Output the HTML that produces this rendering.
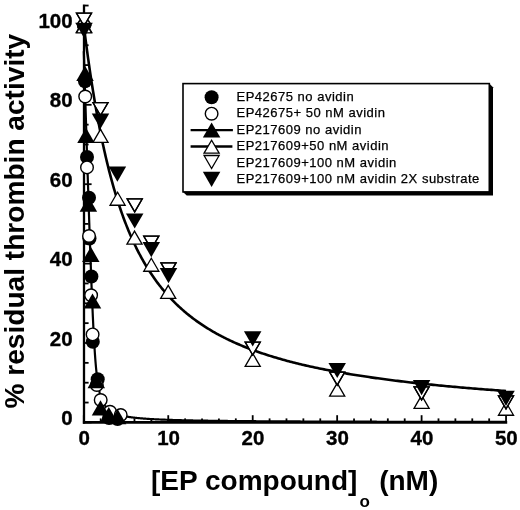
<!DOCTYPE html><html><head><meta charset="utf-8"><style>html,body{margin:0;padding:0;background:#fff;}svg{display:block;will-change:transform;}text{font-family:"Liberation Sans",sans-serif;}</style></head><body>
<svg width="520" height="510" viewBox="0 0 520 510">
<rect width="520" height="510" fill="#fff"/>
<g stroke="#000" fill="none">
<line x1="84" y1="4.5" x2="84" y2="423.7" stroke-width="2.3"/>
<line x1="82.85" y1="422.4" x2="507.2" y2="422.4" stroke-width="2.7"/>
<line x1="85" y1="422.40" x2="91.60" y2="422.40" stroke-width="1.8"/>
<line x1="85" y1="402.55" x2="88.60" y2="402.55" stroke-width="1.8"/>
<line x1="85" y1="382.70" x2="88.60" y2="382.70" stroke-width="1.8"/>
<line x1="85" y1="362.85" x2="88.60" y2="362.85" stroke-width="1.8"/>
<line x1="85" y1="343.00" x2="91.60" y2="343.00" stroke-width="1.8"/>
<line x1="85" y1="323.15" x2="88.60" y2="323.15" stroke-width="1.8"/>
<line x1="85" y1="303.30" x2="88.60" y2="303.30" stroke-width="1.8"/>
<line x1="85" y1="283.45" x2="88.60" y2="283.45" stroke-width="1.8"/>
<line x1="85" y1="263.60" x2="91.60" y2="263.60" stroke-width="1.8"/>
<line x1="85" y1="243.75" x2="88.60" y2="243.75" stroke-width="1.8"/>
<line x1="85" y1="223.90" x2="88.60" y2="223.90" stroke-width="1.8"/>
<line x1="85" y1="204.05" x2="88.60" y2="204.05" stroke-width="1.8"/>
<line x1="85" y1="184.20" x2="91.60" y2="184.20" stroke-width="1.8"/>
<line x1="85" y1="164.35" x2="88.60" y2="164.35" stroke-width="1.8"/>
<line x1="85" y1="144.50" x2="88.60" y2="144.50" stroke-width="1.8"/>
<line x1="85" y1="124.65" x2="88.60" y2="124.65" stroke-width="1.8"/>
<line x1="85" y1="104.80" x2="91.60" y2="104.80" stroke-width="1.8"/>
<line x1="85" y1="84.95" x2="88.60" y2="84.95" stroke-width="1.8"/>
<line x1="85" y1="65.10" x2="88.60" y2="65.10" stroke-width="1.8"/>
<line x1="85" y1="45.25" x2="88.60" y2="45.25" stroke-width="1.8"/>
<line x1="85" y1="25.40" x2="91.60" y2="25.40" stroke-width="1.8"/>
<line x1="85" y1="5.55" x2="88.60" y2="5.55" stroke-width="1.8"/>
<line x1="83.80" y1="421" x2="83.80" y2="415.20" stroke-width="1.8"/>
<line x1="100.69" y1="421" x2="100.69" y2="418.40" stroke-width="1.8"/>
<line x1="117.58" y1="421" x2="117.58" y2="418.40" stroke-width="1.8"/>
<line x1="134.47" y1="421" x2="134.47" y2="418.40" stroke-width="1.8"/>
<line x1="151.36" y1="421" x2="151.36" y2="418.40" stroke-width="1.8"/>
<line x1="168.25" y1="421" x2="168.25" y2="415.20" stroke-width="1.8"/>
<line x1="185.14" y1="421" x2="185.14" y2="418.40" stroke-width="1.8"/>
<line x1="202.03" y1="421" x2="202.03" y2="418.40" stroke-width="1.8"/>
<line x1="218.92" y1="421" x2="218.92" y2="418.40" stroke-width="1.8"/>
<line x1="235.81" y1="421" x2="235.81" y2="418.40" stroke-width="1.8"/>
<line x1="252.70" y1="421" x2="252.70" y2="415.20" stroke-width="1.8"/>
<line x1="269.59" y1="421" x2="269.59" y2="418.40" stroke-width="1.8"/>
<line x1="286.48" y1="421" x2="286.48" y2="418.40" stroke-width="1.8"/>
<line x1="303.37" y1="421" x2="303.37" y2="418.40" stroke-width="1.8"/>
<line x1="320.26" y1="421" x2="320.26" y2="418.40" stroke-width="1.8"/>
<line x1="337.15" y1="421" x2="337.15" y2="415.20" stroke-width="1.8"/>
<line x1="354.04" y1="421" x2="354.04" y2="418.40" stroke-width="1.8"/>
<line x1="370.93" y1="421" x2="370.93" y2="418.40" stroke-width="1.8"/>
<line x1="387.82" y1="421" x2="387.82" y2="418.40" stroke-width="1.8"/>
<line x1="404.71" y1="421" x2="404.71" y2="418.40" stroke-width="1.8"/>
<line x1="421.60" y1="421" x2="421.60" y2="415.20" stroke-width="1.8"/>
<line x1="438.49" y1="421" x2="438.49" y2="418.40" stroke-width="1.8"/>
<line x1="455.38" y1="421" x2="455.38" y2="418.40" stroke-width="1.8"/>
<line x1="472.27" y1="421" x2="472.27" y2="418.40" stroke-width="1.8"/>
<line x1="489.16" y1="421" x2="489.16" y2="418.40" stroke-width="1.8"/>
<line x1="506.05" y1="421" x2="506.05" y2="415.20" stroke-width="1.8"/>
</g>
<path d="M83.80,25.40 L83.80,25.42 L83.81,25.49 L83.82,25.59 L83.84,25.74 L83.87,25.94 L83.90,26.18 L83.93,26.45 L83.97,26.78 L84.01,27.14 L84.07,27.55 L84.12,28.00 L84.18,28.49 L84.25,29.02 L84.32,29.60 L84.40,30.21 L84.48,30.87 L84.57,31.56 L84.66,32.30 L84.76,33.08 L84.86,33.89 L84.97,34.75 L85.08,35.64 L85.20,36.58 L85.33,37.55 L85.46,38.56 L85.59,39.60 L85.73,40.68 L85.88,41.80 L86.03,42.96 L86.19,44.14 L86.35,45.37 L86.52,46.62 L86.69,47.92 L86.87,49.24 L87.05,50.59 L87.24,51.98 L87.43,53.40 L87.63,54.85 L87.83,56.33 L88.04,57.83 L88.26,59.37 L88.48,60.93 L88.70,62.52 L88.93,64.14 L89.17,65.78 L89.41,67.45 L89.66,69.14 L89.91,70.86 L90.17,72.60 L90.43,74.36 L90.70,76.14 L90.97,77.95 L91.25,79.77 L91.53,81.61 L91.82,83.48 L92.12,85.35 L92.42,87.25 L92.72,89.16 L93.03,91.09 L93.35,93.04 L93.67,95.00 L94.00,96.97 L94.33,98.95 L94.66,100.95 L95.01,102.96 L95.35,104.97 L95.71,107.00 L96.06,109.04 L96.43,111.09 L96.80,113.14 L97.17,115.20 L97.55,117.27 L97.93,119.35 L98.32,121.42 L98.72,123.51 L99.12,125.60 L99.53,127.69 L99.94,129.78 L100.35,131.88 L100.77,133.97 L101.20,136.07 L101.63,138.17 L102.07,140.27 L102.51,142.36 L102.96,144.46 L103.42,146.55 L103.88,148.65 L104.34,150.73 L104.81,152.82 L105.28,154.90 L105.76,156.98 L106.25,159.05 L106.74,161.12 L107.24,163.18 L107.74,165.23 L108.24,167.28 L108.76,169.32 L109.27,171.36 L109.80,173.38 L110.32,175.40 L110.86,177.41 L111.39,179.41 L111.94,181.40 L112.49,183.38 L113.04,185.36 L113.60,187.32 L114.17,189.27 L114.74,191.21 L115.31,193.14 L115.89,195.07 L116.48,196.97 L117.07,198.87 L117.67,200.76 L118.27,202.63 L118.88,204.49 L119.49,206.34 L120.11,208.18 L120.73,210.01 L121.36,211.82 L121.99,213.62 L122.63,215.40 L123.28,217.18 L123.93,218.94 L124.58,220.69 L125.24,222.42 L125.91,224.14 L126.58,225.85 L127.26,227.54 L127.94,229.22 L128.62,230.89 L129.32,232.54 L130.01,234.18 L130.72,235.81 L131.42,237.42 L132.14,239.02 L132.86,240.60 L133.58,242.17 L134.31,243.73 L135.05,245.27 L135.79,246.80 L136.53,248.32 L137.28,249.82 L138.04,251.31 L138.80,252.79 L139.56,254.25 L140.34,255.70 L141.11,257.13 L141.90,258.55 L142.68,259.96 L143.48,261.35 L144.28,262.74 L145.08,264.10 L145.89,265.46 L146.70,266.80 L147.52,268.13 L148.35,269.45 L149.18,270.75 L150.01,272.04 L150.85,273.32 L151.70,274.58 L152.55,275.84 L153.41,277.08 L154.27,278.30 L155.14,279.52 L156.01,280.72 L156.89,281.92 L157.77,283.10 L158.66,284.26 L159.55,285.42 L160.45,286.56 L161.36,287.70 L162.27,288.82 L163.18,289.93 L164.10,291.03 L165.03,292.12 L165.96,293.19 L166.89,294.26 L167.84,295.31 L168.78,296.36 L169.73,297.39 L170.69,298.41 L171.66,299.42 L172.62,300.43 L173.60,301.42 L174.58,302.40 L175.56,303.37 L176.55,304.33 L177.54,305.28 L178.54,306.23 L179.55,307.16 L180.56,308.08 L181.57,308.99 L182.60,309.90 L183.62,310.79 L184.65,311.68 L185.69,312.55 L186.73,313.42 L187.78,314.28 L188.83,315.13 L189.89,315.97 L190.96,316.80 L192.02,317.62 L193.10,318.44 L194.18,319.25 L195.26,320.04 L196.35,320.83 L197.45,321.62 L198.55,322.39 L199.66,323.16 L200.77,323.92 L201.88,324.67 L203.01,325.41 L204.13,326.15 L205.27,326.88 L206.40,327.60 L207.55,328.31 L208.69,329.02 L209.85,329.72 L211.01,330.41 L212.17,331.09 L213.34,331.77 L214.52,332.44 L215.70,333.11 L216.88,333.77 L218.07,334.42 L219.27,335.06 L220.47,335.70 L221.68,336.34 L222.89,336.96 L224.11,337.58 L225.33,338.20 L226.56,338.80 L227.79,339.41 L229.03,340.00 L230.27,340.59 L231.52,341.18 L232.78,341.75 L234.04,342.33 L235.30,342.89 L236.57,343.46 L237.85,344.01 L239.13,344.56 L240.42,345.11 L241.71,345.65 L243.00,346.18 L244.31,346.71 L245.61,347.24 L246.93,347.76 L248.25,348.27 L249.57,348.78 L250.90,349.29 L252.23,349.79 L253.57,350.28 L254.92,350.77 L256.27,351.26 L257.62,351.74 L258.98,352.22 L260.35,352.69 L261.72,353.16 L263.10,353.62 L264.48,354.08 L265.86,354.54 L267.26,354.99 L268.66,355.43 L270.06,355.88 L271.47,356.31 L272.88,356.75 L274.30,357.18 L275.72,357.60 L277.15,358.03 L278.59,358.44 L280.03,358.86 L281.47,359.27 L282.92,359.68 L284.38,360.08 L285.84,360.48 L287.31,360.88 L288.78,361.27 L290.26,361.66 L291.74,362.04 L293.23,362.42 L294.72,362.80 L296.22,363.18 L297.72,363.55 L299.23,363.92 L300.75,364.28 L302.27,364.64 L303.79,365.00 L305.32,365.36 L306.86,365.71 L308.40,366.06 L309.95,366.41 L311.50,366.75 L313.05,367.09 L314.62,367.43 L316.18,367.76 L317.76,368.09 L319.34,368.42 L320.92,368.75 L322.51,369.07 L324.10,369.39 L325.70,369.71 L327.31,370.02 L328.92,370.33 L330.53,370.64 L332.15,370.95 L333.78,371.25 L335.41,371.56 L337.04,371.85 L338.69,372.15 L340.33,372.44 L341.99,372.74 L343.64,373.03 L345.31,373.31 L346.98,373.60 L348.65,373.88 L350.33,374.16 L352.01,374.43 L353.70,374.71 L355.40,374.98 L357.10,375.25 L358.80,375.52 L360.51,375.79 L362.23,376.05 L363.95,376.31 L365.68,376.57 L367.41,376.83 L369.15,377.08 L370.89,377.34 L372.64,377.59 L374.39,377.84 L376.15,378.09 L377.91,378.33 L379.68,378.57 L381.46,378.82 L383.23,379.05 L385.02,379.29 L386.81,379.53 L388.61,379.76 L390.41,379.99 L392.21,380.22 L394.02,380.45 L395.84,380.68 L397.66,380.90 L399.49,381.13 L401.32,381.35 L403.16,381.57 L405.01,381.78 L406.85,382.00 L408.71,382.21 L410.57,382.43 L412.43,382.64 L414.30,382.85 L416.18,383.06 L418.06,383.26 L419.94,383.47 L421.83,383.67 L423.73,383.87 L425.63,384.07 L427.54,384.27 L429.45,384.47 L431.37,384.66 L433.29,384.86 L435.22,385.05 L437.15,385.24 L439.09,385.43 L441.04,385.62 L442.99,385.81 L444.94,385.99 L446.90,386.18 L448.87,386.36 L450.84,386.54 L452.81,386.72 L454.79,386.90 L456.78,387.08 L458.77,387.25 L460.77,387.43 L462.77,387.60 L464.78,387.78 L466.79,387.95 L468.81,388.12 L470.84,388.29 L472.86,388.45 L474.90,388.62 L476.94,388.79 L478.98,388.95 L481.03,389.11 L483.09,389.27 L485.15,389.43 L487.22,389.59 L489.29,389.75 L491.36,389.91 L493.45,390.07 L495.53,390.22 L497.63,390.37 L499.72,390.53 L501.83,390.68 L503.94,390.83 L506.05,390.98" fill="none" stroke="#000" stroke-width="2.6"/>
<path d="M83.80,51.13 L83.80,51.15 L83.80,51.21 L83.81,51.32 L83.81,51.47 L83.82,51.67 L83.82,51.90 L83.83,52.18 L83.84,52.51 L83.85,52.87 L83.87,53.28 L83.88,53.74 L83.90,54.23 L83.91,54.77 L83.93,55.36 L83.95,55.98 L83.97,56.65 L83.99,57.36 L84.01,58.12 L84.04,58.91 L84.06,59.76 L84.09,60.64 L84.12,61.57 L84.15,62.53 L84.18,63.55 L84.21,64.60 L84.25,65.70 L84.28,66.84 L84.32,68.02 L84.36,69.25 L84.40,70.51 L84.44,71.83 L84.48,73.18 L84.52,74.57 L84.56,76.01 L84.61,77.49 L84.66,79.01 L84.71,80.58 L84.76,82.18 L84.81,83.83 L84.86,85.52 L84.91,87.25 L84.97,89.03 L85.02,90.84 L85.08,92.70 L85.14,94.60 L85.20,96.54 L85.26,98.52 L85.32,100.54 L85.39,102.61 L85.45,104.71 L85.52,106.86 L85.59,109.04 L85.66,111.27 L85.73,113.53 L85.80,115.84 L85.87,118.19 L85.95,120.57 L86.03,123.00 L86.10,125.46 L86.18,127.97 L86.26,130.51 L86.34,133.10 L86.43,135.72 L86.51,138.38 L86.59,141.08 L86.68,143.81 L86.77,146.58 L86.86,149.39 L86.95,152.24 L87.04,155.12 L87.13,158.04 L87.23,161.00 L87.32,163.99 L87.42,167.02 L87.52,170.08 L87.62,173.17 L87.72,176.30 L87.82,179.46 L87.93,182.66 L88.03,185.88 L88.14,189.14 L88.25,192.42 L88.36,195.74 L88.47,199.09 L88.58,202.46 L88.69,205.86 L88.81,209.29 L88.92,212.75 L89.04,216.23 L89.16,219.73 L89.28,223.25 L89.40,226.80 L89.52,230.37 L89.64,233.95 L89.77,237.55 L89.90,241.17 L90.02,244.80 L90.15,248.44 L90.28,252.09 L90.41,255.75 L90.55,259.42 L90.68,263.09 L90.82,266.76 L90.95,270.43 L91.09,274.10 L91.23,277.76 L91.37,281.41 L91.51,285.05 L91.66,288.67 L91.80,292.27 L91.95,295.85 L92.10,299.41 L92.25,302.93 L92.40,306.42 L92.55,309.88 L92.70,313.29 L92.85,316.66 L93.01,319.98 L93.17,323.24 L93.32,326.45 L93.48,329.60 L93.64,332.68 L93.81,335.69 L93.97,338.64 L94.13,341.51 L94.30,344.30 L94.47,347.02 L94.64,349.65 L94.81,352.21 L94.98,354.68 L95.15,357.06 L95.32,359.37 L95.50,361.59 L95.68,363.72 L95.85,365.78 L96.03,367.75 L96.21,369.64 L96.40,371.46 L96.58,373.20 L96.76,374.87 L96.95,376.46 L97.14,377.99 L97.33,379.45 L97.52,380.84 L97.71,382.17 L97.90,383.45 L98.09,384.67 L98.29,385.83 L98.48,386.95 L98.68,388.01 L98.88,389.03 L99.08,390.01 L99.28,390.94 L99.49,391.83 L99.69,392.69 L99.90,393.51 L100.10,394.29 L100.31,395.04 L100.52,395.76 L100.73,396.45 L100.94,397.12 L101.16,397.76 L101.37,398.37 L101.59,398.96 L101.81,399.52 L102.03,400.07 L102.25,400.59 L102.47,401.09 L102.69,401.58 L102.91,402.05 L103.14,402.50 L103.37,402.93 L103.60,403.35 L103.83,403.76 L104.06,404.15 L104.29,404.53 L104.52,404.89 L104.76,405.25 L104.99,405.59 L105.23,405.92 L105.47,406.24 L105.71,406.55 L105.95,406.85 L106.19,407.14 L106.44,407.43 L106.68,407.70 L106.93,407.97 L107.18,408.22 L107.43,408.48 L107.68,408.72 L107.93,408.96 L108.18,409.19 L108.44,409.41 L108.69,409.63 L108.95,409.84 L109.21,410.04 L109.47,410.24 L109.73,410.44 L109.99,410.63 L110.26,410.81 L110.52,410.99 L110.79,411.17 L111.06,411.34 L111.33,411.51 L111.60,411.67 L111.87,411.83 L112.14,411.98 L112.42,412.14 L112.69,412.28 L112.97,412.43 L113.25,412.57 L113.53,412.71 L113.81,412.84 L114.09,412.97 L114.37,413.10 L114.66,413.23 L114.95,413.35 L115.23,413.47 L115.52,413.59 L115.81,413.70 L116.10,413.82 L116.40,413.93 L116.69,414.04 L116.99,414.14 L117.28,414.25 L117.58,414.35 L117.88,414.45 L118.18,414.55 L118.49,414.64 L118.79,414.73 L119.09,414.83 L119.40,414.92 L119.71,415.01 L120.02,415.09 L120.33,415.18 L120.64,415.26 L120.95,415.34 L121.27,415.42 L121.58,415.50 L121.90,415.58 L122.22,415.66 L122.54,415.73 L122.86,415.80 L123.18,415.88 L123.50,415.95 L123.83,416.02 L124.15,416.09 L124.48,416.15 L124.81,416.22 L125.14,416.28 L125.47,416.35 L125.80,416.41 L126.14,416.47 L126.47,416.53 L126.81,416.59 L127.15,416.65 L127.49,416.71 L127.83,416.77 L128.17,416.82 L128.51,416.88 L128.86,416.93 L129.20,416.99 L129.55,417.04 L129.90,417.09 L130.25,417.14 L130.60,417.19 L130.95,417.24 L131.31,417.29 L131.66,417.34 L132.02,417.39 L132.38,417.43 L132.73,417.48 L133.09,417.52 L133.46,417.57 L133.82,417.61 L134.18,417.66 L134.55,417.70 L134.92,417.74 L135.29,417.78 L135.66,417.82 L136.03,417.86 L136.40,417.90 L136.77,417.94 L137.15,417.98 L137.52,418.02 L137.90,418.06 L138.28,418.09 L138.66,418.13 L139.04,418.17 L139.43,418.20 L139.81,418.24 L140.20,418.27 L140.58,418.31 L140.97,418.34 L141.36,418.37 L141.75,418.41 L142.14,418.44 L142.54,418.47 L142.93,418.50 L143.33,418.53 L143.73,418.56 L144.12,418.59 L144.52,418.62 L144.93,418.65 L145.33,418.68 L145.73,418.71 L146.14,418.74 L146.54,418.77 L146.95,418.80 L147.36,418.82 L147.77,418.85 L148.19,418.88 L148.60,418.91 L149.01,418.93 L149.43,418.96 L149.85,418.98 L150.27,419.01 L150.69,419.03 L151.11,419.06 L151.53,419.08 L151.95,419.11 L152.38,419.13 L152.81,419.16 L153.23,419.18 L153.66,419.20 L154.09,419.23 L154.52,419.25 L154.96,419.27 L155.39,419.29 L155.83,419.31 L156.27,419.34 L156.70,419.36 L157.14,419.38 L157.59,419.40 L158.03,419.42 L158.47,419.44 L158.92,419.46 L159.36,419.48 L159.81,419.50 L160.26,419.52 L160.71,419.54 L161.16,419.56 L161.62,419.58 L162.07,419.60 L162.53,419.62 L162.98,419.63 L163.44,419.65 L163.90,419.67 L164.36,419.69 L164.82,419.71 L165.29,419.72 L165.75,419.74 L166.22,419.76 L166.69,419.77 L167.16,419.79 L167.63,419.81 L168.10,419.82 L168.57,419.84 L169.04,419.86 L169.52,419.87 L170.00,419.89 L170.47,419.90 L170.95,419.92 L171.44,419.94 L171.92,419.95 L172.40,419.97 L172.89,419.98 L173.37,420.00 L173.86,420.01 L174.35,420.03 L174.84,420.04 L175.33,420.05 L175.82,420.07 L176.32,420.08 L176.81,420.10 L177.31,420.11 L177.81,420.12 L178.31,420.14 L178.81,420.15 L179.31,420.16 L179.81,420.18 L180.32,420.19 L180.82,420.20 L181.33,420.22 L181.84,420.23 L182.35,420.24 L182.86,420.25 L183.37,420.27 L183.89,420.28 L184.40,420.29 L184.92,420.30 L185.44,420.31 L185.96,420.33 L186.48,420.34 L187.00,420.35 L187.52,420.36 L188.05,420.37 L188.57,420.38 L189.10,420.39 L189.63,420.40 L190.16,420.42 L190.69,420.43 L191.22,420.44 L191.75,420.45 L192.29,420.46 L192.83,420.47 L193.36,420.48 L193.90,420.49 L194.44,420.50 L194.98,420.51 L195.53,420.52 L196.07,420.53 L196.62,420.54 L197.16,420.55 L197.71,420.56 L198.26,420.57 L198.81,420.58 L199.37,420.59 L199.92,420.60 L200.47,420.61 L201.03,420.62 L201.59,420.63 L202.15,420.64 L202.71,420.64 L203.27,420.65 L203.83,420.66 L204.40,420.67 L204.96,420.68 L205.53,420.69 L206.10,420.70 L206.67,420.71 L207.24,420.72 L207.81,420.72 L208.38,420.73 L208.96,420.74 L209.53,420.75 L210.11,420.76 L210.69,420.76 L211.27,420.77 L211.85,420.78 L212.43,420.79 L213.02,420.80 L213.60,420.80 L214.19,420.81 L214.78,420.82 L215.37,420.83 L215.96,420.84 L216.55,420.84 L217.14,420.85 L217.74,420.86 L218.33,420.87 L218.93,420.87 L219.53,420.88 L220.13,420.89 L220.73,420.89 L221.33,420.90 L221.94,420.91 L222.54,420.92 L223.15,420.92 L223.76,420.93 L224.37,420.94 L224.98,420.94 L225.59,420.95 L226.20,420.96 L226.82,420.96 L227.43,420.97 L228.05,420.98 L228.67,420.98 L229.29,420.99 L229.91,421.00 L230.53,421.00 L231.15,421.01 L231.78,421.02 L232.40,421.02 L233.03,421.03 L233.66,421.03 L234.29,421.04 L234.92,421.05 L235.56,421.05 L236.19,421.06 L236.83,421.06 L237.46,421.07 L238.10,421.08 L238.74,421.08 L239.38,421.09 L240.02,421.09 L240.67,421.10 L241.31,421.11 L241.96,421.11 L242.61,421.12 L243.26,421.12 L243.91,421.13 L244.56,421.13 L245.21,421.14 L245.86,421.14 L246.52,421.15 L247.18,421.15 L247.83,421.16 L248.49,421.17 L249.15,421.17 L249.82,421.18 L250.48,421.18 L251.14,421.19 L251.81,421.19 L252.48,421.20 L253.15,421.20 L253.82,421.21 L254.49,421.21 L255.16,421.22 L255.83,421.22 L256.51,421.23 L257.19,421.23 L257.86,421.24 L258.54,421.24 L259.22,421.25 L259.91,421.25 L260.59,421.25 L261.27,421.26 L261.96,421.26 L262.65,421.27 L263.34,421.27 L264.03,421.28 L264.72,421.28 L265.41,421.29 L266.10,421.29 L266.80,421.30 L267.49,421.30 L268.19,421.30 L268.89,421.31 L269.59,421.31 L270.29,421.32 L271.00,421.32 L271.70,421.33 L272.41,421.33 L273.11,421.34 L273.82,421.34 L274.53,421.34 L275.24,421.35 L275.96,421.35 L276.67,421.36 L277.38,421.36 L278.10,421.36 L278.82,421.37 L279.54,421.37 L280.26,421.38 L280.98,421.38 L281.70,421.38 L282.43,421.39 L283.15,421.39 L283.88,421.40 L284.61,421.40 L285.34,421.40 L286.07,421.41 L286.80,421.41 L287.53,421.41 L288.27,421.42 L289.00,421.42 L289.74,421.43 L290.48,421.43 L291.22,421.43 L291.96,421.44 L292.70,421.44 L293.45,421.44 L294.19,421.45 L294.94,421.45 L295.69,421.45 L296.44,421.46 L297.19,421.46 L297.94,421.46 L298.69,421.47 L299.45,421.47 L300.21,421.47 L300.96,421.48 L301.72,421.48 L302.48,421.49 L303.24,421.49 L304.01,421.49 L304.77,421.50 L305.53,421.50 L306.30,421.50 L307.07,421.50 L307.84,421.51 L308.61,421.51 L309.38,421.51 L310.15,421.52 L310.93,421.52 L311.70,421.52 L312.48,421.53 L313.26,421.53 L314.04,421.53 L314.82,421.54 L315.60,421.54 L316.39,421.54 L317.17,421.55 L317.96,421.55 L318.75,421.55 L319.54,421.55 L320.33,421.56 L321.12,421.56 L321.91,421.56 L322.70,421.57 L323.50,421.57 L324.30,421.57 L325.10,421.57 L325.90,421.58 L326.70,421.58 L327.50,421.58 L328.30,421.59 L329.11,421.59 L329.91,421.59 L330.72,421.59 L331.53,421.60 L332.34,421.60 L333.15,421.60 L333.96,421.61 L334.78,421.61 L335.59,421.61 L336.41,421.61 L337.23,421.62 L338.05,421.62 L338.87,421.62 L339.69,421.62 L340.52,421.63 L341.34,421.63 L342.17,421.63 L342.99,421.63 L343.82,421.64 L344.65,421.64 L345.48,421.64 L346.32,421.64 L347.15,421.65 L347.99,421.65 L348.82,421.65 L349.66,421.65 L350.50,421.66 L351.34,421.66 L352.18,421.66 L353.03,421.66 L353.87,421.67 L354.72,421.67 L355.56,421.67 L356.41,421.67 L357.26,421.68 L358.11,421.68 L358.97,421.68 L359.82,421.68 L360.68,421.68 L361.53,421.69 L362.39,421.69 L363.25,421.69 L364.11,421.69 L364.97,421.70 L365.83,421.70 L366.70,421.70 L367.56,421.70 L368.43,421.71 L369.30,421.71 L370.17,421.71 L371.04,421.71 L371.91,421.71 L372.79,421.72 L373.66,421.72 L374.54,421.72 L375.42,421.72 L376.30,421.72 L377.18,421.73 L378.06,421.73 L378.94,421.73 L379.82,421.73 L380.71,421.73 L381.60,421.74 L382.49,421.74 L383.38,421.74 L384.27,421.74 L385.16,421.74 L386.05,421.75 L386.95,421.75 L387.84,421.75 L388.74,421.75 L389.64,421.75 L390.54,421.76 L391.44,421.76 L392.34,421.76 L393.25,421.76 L394.15,421.76 L395.06,421.77 L395.97,421.77 L396.88,421.77 L397.79,421.77 L398.70,421.77 L399.61,421.78 L400.53,421.78 L401.45,421.78 L402.36,421.78 L403.28,421.78 L404.20,421.79 L405.12,421.79 L406.05,421.79 L406.97,421.79 L407.89,421.79 L408.82,421.79 L409.75,421.80 L410.68,421.80 L411.61,421.80 L412.54,421.80 L413.47,421.80 L414.41,421.80 L415.35,421.81 L416.28,421.81 L417.22,421.81 L418.16,421.81 L419.10,421.81 L420.04,421.82 L420.99,421.82 L421.93,421.82 L422.88,421.82 L423.83,421.82 L424.78,421.82 L425.73,421.83 L426.68,421.83 L427.63,421.83 L428.59,421.83 L429.54,421.83 L430.50,421.83 L431.46,421.83 L432.42,421.84 L433.38,421.84 L434.34,421.84 L435.30,421.84 L436.27,421.84 L437.24,421.84 L438.20,421.85 L439.17,421.85 L440.14,421.85 L441.11,421.85 L442.09,421.85 L443.06,421.85 L444.04,421.86 L445.01,421.86 L445.99,421.86 L446.97,421.86 L447.95,421.86 L448.94,421.86 L449.92,421.86 L450.90,421.87 L451.89,421.87 L452.88,421.87 L453.87,421.87 L454.86,421.87 L455.85,421.87 L456.84,421.87 L457.83,421.88 L458.83,421.88 L459.83,421.88 L460.82,421.88 L461.82,421.88 L462.83,421.88 L463.83,421.88 L464.83,421.89 L465.84,421.89 L466.84,421.89 L467.85,421.89 L468.86,421.89 L469.87,421.89 L470.88,421.89 L471.89,421.90 L472.91,421.90 L473.92,421.90 L474.94,421.90 L475.95,421.90 L476.97,421.90 L477.99,421.90 L479.02,421.90 L480.04,421.91 L481.06,421.91 L482.09,421.91 L483.12,421.91 L484.15,421.91 L485.18,421.91 L486.21,421.91 L487.24,421.92 L488.27,421.92 L489.31,421.92 L490.34,421.92 L491.38,421.92 L492.42,421.92 L493.46,421.92 L494.50,421.92 L495.55,421.93 L496.59,421.93 L497.64,421.93 L498.68,421.93 L499.73,421.93 L500.78,421.93 L501.83,421.93 L502.89,421.93 L503.94,421.93 L504.99,421.94 L506.05,421.94" fill="none" stroke="#000" stroke-width="2.2"/>
<circle cx="84.00" cy="25.40" r="7" fill="#000"/>
<circle cx="85.00" cy="81.20" r="7" fill="#000"/>
<circle cx="87.00" cy="157.00" r="7" fill="#000"/>
<circle cx="89.00" cy="197.80" r="7" fill="#000"/>
<circle cx="89.50" cy="238.50" r="7" fill="#000"/>
<circle cx="91.40" cy="276.50" r="7" fill="#000"/>
<circle cx="92.80" cy="341.80" r="7" fill="#000"/>
<circle cx="97.70" cy="379.20" r="7" fill="#000"/>
<circle cx="109.00" cy="418.00" r="7" fill="#000"/>
<circle cx="117.60" cy="419.00" r="7" fill="#000"/>
<circle cx="84.00" cy="25.40" r="6.3" fill="#fff" stroke="#000" stroke-width="1.4"/>
<circle cx="85.20" cy="96.50" r="6.3" fill="#fff" stroke="#000" stroke-width="1.4"/>
<circle cx="87.00" cy="167.40" r="6.3" fill="#fff" stroke="#000" stroke-width="1.4"/>
<circle cx="89.00" cy="236.00" r="6.3" fill="#fff" stroke="#000" stroke-width="1.4"/>
<circle cx="91.10" cy="295.30" r="6.3" fill="#fff" stroke="#000" stroke-width="1.4"/>
<circle cx="92.60" cy="334.40" r="6.3" fill="#fff" stroke="#000" stroke-width="1.4"/>
<circle cx="96.80" cy="385.00" r="6.3" fill="#fff" stroke="#000" stroke-width="1.4"/>
<circle cx="100.70" cy="400.00" r="6.3" fill="#fff" stroke="#000" stroke-width="1.4"/>
<circle cx="110.00" cy="411.80" r="6.3" fill="#fff" stroke="#000" stroke-width="1.4"/>
<circle cx="120.70" cy="415.00" r="6.3" fill="#fff" stroke="#000" stroke-width="1.4"/>
<polygon points="75.25,33.00 92.75,33.00 84.00,17.80" fill="#000"/>
<polygon points="76.25,81.00 93.75,81.00 85.00,65.80" fill="#000"/>
<polygon points="77.25,143.00 94.75,143.00 86.00,127.80" fill="#000"/>
<polygon points="79.65,211.80 97.15,211.80 88.40,196.60" fill="#000"/>
<polygon points="82.05,262.00 99.55,262.00 90.80,246.80" fill="#000"/>
<polygon points="83.75,308.60 101.25,308.60 92.50,293.40" fill="#000"/>
<polygon points="87.55,388.30 105.05,388.30 96.30,373.10" fill="#000"/>
<polygon points="91.75,415.40 109.25,415.40 100.50,400.20" fill="#000"/>
<polygon points="100.05,422.10 117.55,422.10 108.80,406.90" fill="#000"/>
<polygon points="108.85,424.20 126.35,424.20 117.60,409.00" fill="#000"/>
<polygon points="76.45,32.85 91.55,32.85 84.00,19.85" fill="#fff" stroke="#000" stroke-width="1.3"/>
<polygon points="92.95,142.35 108.05,142.35 100.50,129.35" fill="#fff" stroke="#000" stroke-width="1.3"/>
<polygon points="110.05,205.25 125.15,205.25 117.60,192.25" fill="#fff" stroke="#000" stroke-width="1.3"/>
<polygon points="126.95,244.15 142.05,244.15 134.50,231.15" fill="#fff" stroke="#000" stroke-width="1.3"/>
<polygon points="143.75,271.25 158.85,271.25 151.30,258.25" fill="#fff" stroke="#000" stroke-width="1.3"/>
<polygon points="160.65,298.35 175.75,298.35 168.20,285.35" fill="#fff" stroke="#000" stroke-width="1.3"/>
<polygon points="245.15,366.35 260.25,366.35 252.70,353.35" fill="#fff" stroke="#000" stroke-width="1.3"/>
<polygon points="329.65,396.05 344.75,396.05 337.20,383.05" fill="#fff" stroke="#000" stroke-width="1.3"/>
<polygon points="414.05,408.35 429.15,408.35 421.60,395.35" fill="#fff" stroke="#000" stroke-width="1.3"/>
<polygon points="498.45,415.25 513.55,415.25 506.00,402.25" fill="#fff" stroke="#000" stroke-width="1.3"/>
<polygon points="76.45,13.05 91.55,13.05 84.00,26.05" fill="#fff" stroke="#000" stroke-width="1.3"/>
<polygon points="92.95,102.55 108.05,102.55 100.50,115.55" fill="#fff" stroke="#000" stroke-width="1.3"/>
<polygon points="127.15,198.85 142.25,198.85 134.70,211.85" fill="#fff" stroke="#000" stroke-width="1.3"/>
<polygon points="143.75,236.05 158.85,236.05 151.30,249.05" fill="#fff" stroke="#000" stroke-width="1.3"/>
<polygon points="160.95,262.95 176.05,262.95 168.50,275.95" fill="#fff" stroke="#000" stroke-width="1.3"/>
<polygon points="245.15,342.05 260.25,342.05 252.70,355.05" fill="#fff" stroke="#000" stroke-width="1.3"/>
<polygon points="329.65,372.15 344.75,372.15 337.20,385.15" fill="#fff" stroke="#000" stroke-width="1.3"/>
<polygon points="414.05,386.95 429.15,386.95 421.60,399.95" fill="#fff" stroke="#000" stroke-width="1.3"/>
<polygon points="498.45,395.95 513.55,395.95 506.00,408.95" fill="#fff" stroke="#000" stroke-width="1.3"/>
<polygon points="75.25,22.80 92.75,22.80 84.00,38.00" fill="#000"/>
<polygon points="91.75,113.50 109.25,113.50 100.50,128.70" fill="#000"/>
<polygon points="108.65,166.60 126.15,166.60 117.40,181.80" fill="#000"/>
<polygon points="125.95,213.40 143.45,213.40 134.70,228.60" fill="#000"/>
<polygon points="142.55,242.00 160.05,242.00 151.30,257.20" fill="#000"/>
<polygon points="159.75,268.00 177.25,268.00 168.50,283.20" fill="#000"/>
<polygon points="243.95,331.30 261.45,331.30 252.70,346.50" fill="#000"/>
<polygon points="328.45,362.90 345.95,362.90 337.20,378.10" fill="#000"/>
<polygon points="412.85,380.00 430.35,380.00 421.60,395.20" fill="#000"/>
<polygon points="497.25,390.80 514.75,390.80 506.00,406.00" fill="#000"/>
<polygon points="76.45,13.05 91.55,13.05 84.00,26.05" fill="none" stroke="#000" stroke-width="1.3"/>
<polygon points="92.95,102.55 108.05,102.55 100.50,115.55" fill="none" stroke="#000" stroke-width="1.3"/>
<polygon points="127.15,198.85 142.25,198.85 134.70,211.85" fill="none" stroke="#000" stroke-width="1.3"/>
<polygon points="143.75,236.05 158.85,236.05 151.30,249.05" fill="none" stroke="#000" stroke-width="1.3"/>
<polygon points="160.95,262.95 176.05,262.95 168.50,275.95" fill="none" stroke="#000" stroke-width="1.3"/>
<polygon points="245.15,342.05 260.25,342.05 252.70,355.05" fill="none" stroke="#000" stroke-width="1.3"/>
<polygon points="329.65,372.15 344.75,372.15 337.20,385.15" fill="none" stroke="#000" stroke-width="1.3"/>
<polygon points="414.05,386.95 429.15,386.95 421.60,399.95" fill="none" stroke="#000" stroke-width="1.3"/>
<polygon points="498.45,395.95 513.55,395.95 506.00,408.95" fill="none" stroke="#000" stroke-width="1.3"/>
<g font-weight="bold" font-size="20.5" fill="#000" stroke="#000" stroke-width="0.35">
<text x="72.6" y="425.00" text-anchor="end">0</text>
<text x="72.6" y="345.60" text-anchor="end">20</text>
<text x="72.6" y="266.20" text-anchor="end">40</text>
<text x="72.6" y="186.80" text-anchor="end">60</text>
<text x="72.6" y="107.40" text-anchor="end">80</text>
<text x="72.6" y="28.00" text-anchor="end">100</text>
<text x="84.10" y="444.6" text-anchor="middle">0</text>
<text x="168.55" y="444.6" text-anchor="middle">10</text>
<text x="253.00" y="444.6" text-anchor="middle">20</text>
<text x="337.45" y="444.6" text-anchor="middle">30</text>
<text x="421.90" y="444.6" text-anchor="middle">40</text>
<text x="506.35" y="444.6" text-anchor="middle">50</text>
</g>
<text x="151" y="490" font-weight="bold" font-size="28">[EP compound]</text>
<text x="359.6" y="506.5" font-weight="bold" font-size="17">o</text>
<text x="379.2" y="490" font-weight="bold" font-size="28">(nM)</text>
<text transform="translate(24,408.5) rotate(-90)" font-weight="bold" font-size="28.1">% residual thrombin activity</text>
<polygon points="489.3,83.6 493,87.3 493,195.6 186.7,195.6 183,191.9" fill="#000"/>
<rect x="183" y="83.6" width="306.3" height="108.3" fill="#fff" stroke="#000" stroke-width="1.6"/>
<circle cx="211.60" cy="97.30" r="7" fill="#000"/>
<circle cx="211.60" cy="113.70" r="6.3" fill="#fff" stroke="#000" stroke-width="1.4"/>
<line x1="190.6" y1="130.2" x2="232.9" y2="130.2" stroke="#000" stroke-width="2.3"/>
<polygon points="202.85,137.60 220.35,137.60 211.60,122.40" fill="#000"/>
<line x1="190.6" y1="146.5" x2="232.4" y2="146.5" stroke="#000" stroke-width="2.3"/>
<polygon points="204.05,153.20 219.15,153.20 211.60,140.20" fill="#fff" stroke="#000" stroke-width="1.3"/>
<polygon points="204.05,155.50 219.15,155.50 211.60,168.50" fill="#fff" stroke="#000" stroke-width="1.3"/>
<polygon points="202.85,171.80 220.35,171.80 211.60,187.00" fill="#000"/>
<g font-size="13" letter-spacing="0.5" fill="#000" stroke="#000" stroke-width="0.25">
<text x="236.5" y="100.9">EP42675 no avidin</text>
<text x="236.5" y="117.4">EP42675+ 50 nM avidin</text>
<text x="236.5" y="133.8">EP217609 no avidin</text>
<text x="236.5" y="150.4">EP217609+50 nM avidin</text>
<text x="236.5" y="166.8">EP217609+100 nM avidin</text>
<text x="236.5" y="183.3">EP217609+100 nM avidin 2X substrate</text>
</g>
</svg></body></html>
